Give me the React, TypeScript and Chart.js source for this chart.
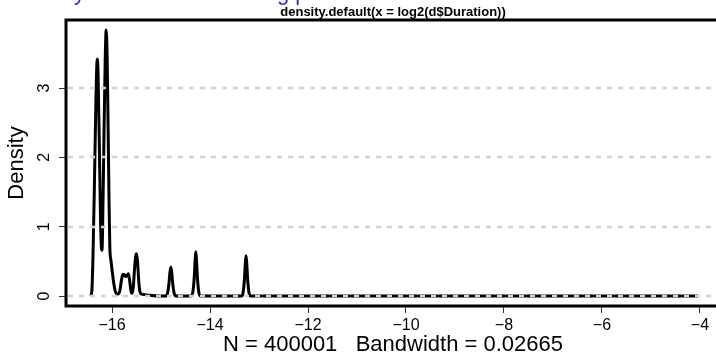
import { useEffect, useRef } from "react";
import { Chart, registerables } from "chart.js";

Chart.register(...registerables);

// log2(Duration) grid points and estimated density values
const xValues = [
  -16.43, -16.41, -16.39, -16.36, -16.33, -16.31, -16.3, -16.285, -16.26, -16.235,
  -16.215, -16.205, -16.19, -16.165, -16.14, -16.12, -16.1, -16.08, -16.06, -16.045,
  -16.02, -15.99, -15.96, -15.93, -15.9, -15.87, -15.84, -15.81, -15.78, -15.75,
  -15.72, -15.69, -15.665, -15.64, -15.61, -15.59, -15.565, -15.54, -15.515, -15.5,
  -15.48, -15.455, -15.43, -15.4, -15.33, -15.22, -15.05,
  -14.9, -14.865, -14.84, -14.82, -14.8, -14.78, -14.76, -14.735, -14.7,
  -14.38, -14.35, -14.325, -14.305, -14.29, -14.275, -14.255, -14.23, -14.2,
  -13.355, -13.325, -13.3, -13.28, -13.265, -13.25, -13.23, -13.205, -13.175,
  -4.04,
];
const densityValues = [
  0.0, 0.1, 0.55, 1.6, 2.8, 3.35, 3.42, 3.2, 2.2, 1.1,
  0.68, 0.66, 1.1, 2.3, 3.4, 3.84, 3.45, 2.4, 1.3, 0.7,
  0.5, 0.32, 0.16, 0.06, 0.03, 0.03, 0.08, 0.22, 0.31, 0.31,
  0.28, 0.3, 0.32, 0.22, 0.06, 0.04, 0.14, 0.4, 0.58, 0.61,
  0.5, 0.22, 0.06, 0.03, 0.02, 0.01, 0.0,
  0.0, 0.05, 0.17, 0.33, 0.42, 0.33, 0.17, 0.05, 0.0,
  0.0, 0.06, 0.24, 0.5, 0.64, 0.5, 0.24, 0.06, 0.0,
  0.0, 0.05, 0.22, 0.46, 0.58, 0.46, 0.22, 0.05, 0.0,
  0.0,
];
const xTicks = [-16, -14, -12, -10, -8, -6, -4];
const yTicks = [0, 1, 2, 3];
const titleText = "density.default(x = log2(d$Duration))";
const xLabel = "N = 400001   Bandwidth = 0.02665";
const yLabel = "Density";

const FONT = "'Liberation Sans', Arial, Helvetica, sans-serif";

const decorPlugin = {
  id: "rDecor",
  afterDatasetsDraw(chart: any) {
    const { ctx, chartArea, scales } = chart;
    const y = scales.y;
    ctx.save();
    // dashed reference lines drawn over the curve
    ctx.strokeStyle = "#d3d3d3";
    ctx.lineWidth = 2.5;
    ctx.setLineDash([5, 6]);
    yTicks.forEach((v) => {
      const py = Math.round(y.getPixelForValue(v));
      ctx.beginPath();
      ctx.moveTo(chartArea.left + 2, py);
      ctx.lineTo(chartArea.right, py);
      ctx.stroke();
    });
    ctx.restore();
  },
  afterDraw(chart: any) {
    const { ctx, chartArea, scales } = chart;
    const y = scales.y;
    ctx.save();
    // box
    ctx.strokeStyle = "#000";
    ctx.lineWidth = 3;
    ctx.setLineDash([]);
    ctx.strokeRect(chartArea.left, chartArea.top, chartArea.right - chartArea.left, chartArea.bottom - chartArea.top);
    // rotated y tick labels
    ctx.fillStyle = "#000";
    ctx.font = `16px ${FONT}`;
    ctx.textAlign = "center";
    ctx.textBaseline = "middle";
    yTicks.forEach((v) => {
      const py = y.getPixelForValue(v);
      ctx.save();
      ctx.translate(chartArea.left - 21, py);
      ctx.rotate(-Math.PI / 2);
      ctx.fillText(String(v), 0, 0);
      ctx.restore();
    });
    // main title
    ctx.font = `bold 13px ${FONT}`;
    ctx.textBaseline = "alphabetic";
    ctx.fillText(titleText, (chartArea.left + chartArea.right) / 2, 16);
    // clipped blue heading above (only descenders visible)
    ctx.fillStyle = "#2b2bc4";
    ctx.font = `22px ${FONT}`;
    ctx.textAlign = "left";
    ctx.fillText("y", 74, 0);
    ctx.fillText("g p", 277, 0);
    ctx.restore();
  },
};

export default function App() {
  const ref = useRef<HTMLCanvasElement | null>(null);
  useEffect(() => {
    if (!ref.current) return;
    const chart = new Chart(ref.current, {
      type: "line",
      data: {
        datasets: [
          {
            data: xValues.map((x, i) => ({ x, y: densityValues[i] })),
            borderColor: "#000",
            borderWidth: 3,
            pointRadius: 0,
            cubicInterpolationMode: "monotone",
            fill: false,
            borderJoinStyle: "round",
          } as any,
        ],
      },
      options: {
        animation: false,
        responsive: false,
        maintainAspectRatio: false,
        layout: { padding: { left: 0, right: 40, top: 20, bottom: 0 } },
        plugins: { legend: { display: false }, tooltip: { enabled: false }, title: { display: false } },
        scales: {
          x: {
            type: "linear",
            min: -16.94,
            max: -3.59,
            afterBuildTicks: (s: any) => {
              s.ticks = xTicks.map((v) => ({ value: v }));
            },
            afterFit: (s: any) => {
              s.height = 53;
            },
            ticks: {
              autoSkip: false,
              maxRotation: 0,
              color: "#000",
              font: { family: FONT, size: 16 },
              padding: 3,
              callback: (v: any) => String(v).replace("-", "\u2212"),
            },
            grid: { drawOnChartArea: false, drawTicks: true, tickLength: 7, color: "#333", lineWidth: 1 },
            border: { display: false },
            title: {
              display: true,
              text: xLabel,
              color: "#000",
              font: { family: FONT, size: 22 },
              padding: { top: 0, bottom: 1 },
            },
          },
          y: {
            type: "linear",
            min: -0.144,
            max: 3.983,
            afterBuildTicks: (s: any) => {
              s.ticks = yTicks.map((v) => ({ value: v }));
            },
            afterFit: (s: any) => {
              s.width = 66;
            },
            ticks: { display: false },
            grid: { drawOnChartArea: false, drawTicks: true, tickLength: 7, color: "#333", lineWidth: 1 },
            border: { display: false },
            title: {
              display: true,
              text: yLabel,
              color: "#000",
              font: { family: FONT, size: 22 },
              padding: { top: 4, bottom: 0 },
            },
          },
        },
      },
      plugins: [decorPlugin],
    });
    return () => chart.destroy();
  }, []);
  return (
    <div style={{ position: "fixed", left: 0, top: 0, width: 716, height: 359, overflow: "hidden", background: "#fff" }}>
      <canvas ref={ref} width={760} height={359} style={{ width: 760, height: 359, display: "block" }} />
    </div>
  );
}
